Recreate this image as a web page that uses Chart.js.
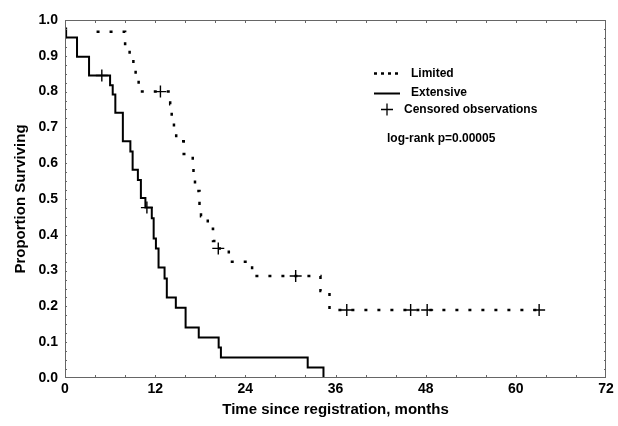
<!DOCTYPE html>
<html>
<head>
<meta charset="utf-8">
<script src="https://cdn.jsdelivr.net/npm/chart.js@4.4.0/dist/chart.umd.min.js"></script>
<style>
  html, body { margin: 0; padding: 0; background: #fff; }
  #wrap { width: 618px; height: 426px; }
</style>
</head>
<body>
<div id="wrap"><canvas id="km" width="618" height="426"></canvas></div>
<script>
// Kaplan-Meier steps (months, proportion surviving)
const limitedTimes = [4.2, 8.0, 8.6, 9.1, 9.4, 9.8, 14.0, 14.2, 14.5, 14.8, 15.8, 17.0, 17.1, 17.3, 17.9, 18.1, 19.0, 19.7, 20.1, 21.8, 24.9, 34.0, 35.2, 63.1];
const limitedSurv  = [0.967, 0.933, 0.9, 0.867, 0.833, 0.8, 0.765, 0.73, 0.696, 0.661, 0.626, 0.591, 0.557, 0.522, 0.487, 0.452, 0.417, 0.383, 0.362, 0.325, 0.285, 0.243, 0.19, 0.19];

const extensiveTimes = [0, 0.15, 1.6, 3.2, 6.0, 6.35, 6.7, 7.7, 8.7, 9.0, 9.7, 10.1, 10.7, 11.55, 11.8, 12.1, 12.45, 13.25, 13.55, 14.75, 16.05, 17.8, 20.45, 20.75, 32.3, 34.4];
const extensiveSurv  = [0.976, 0.951, 0.897, 0.845, 0.818, 0.792, 0.741, 0.661, 0.633, 0.582, 0.553, 0.503, 0.476, 0.446, 0.39, 0.362, 0.309, 0.278, 0.225, 0.196, 0.141, 0.113, 0.085, 0.057, 0.029, 0];

// censored observations
const limitedCensorTimes = [12.7, 20.4, 30.7, 37.5, 46.0, 48.2, 63.1];
const limitedCensorSurv  = [0.8, 0.362, 0.285, 0.19, 0.19, 0.19, 0.19];
const extensiveCensorTimes = [4.9, 10.9];
const extensiveCensorSurv  = [0.845, 0.476];

const xTicks = [0, 12, 24, 36, 48, 60, 72];
const yTicks = [0, 0.1, 0.2, 0.3, 0.4, 0.5, 0.6, 0.7, 0.8, 0.9, 1.0];

const toPts = (xs, ys) => xs.map((x, i) => ({ x: x, y: ys[i] }));
const FONT = 'Arial, "Liberation Sans", sans-serif';

// frame, inner minor ticks, legend and p-value text
const decorations = {
  id: 'decorations',
  afterDraw(chart) {
    const { ctx, chartArea: a, scales } = chart;
    const xs = scales.x, ys = scales.y;
    ctx.save();
    ctx.strokeStyle = '#666';
    ctx.lineWidth = 1;
    ctx.strokeRect(a.left + 0.5, a.top + 0.5, a.right - a.left - 1, a.bottom - a.top - 1);
    ctx.beginPath();
    for (let m = 4; m < 72; m += 4) {
      const px = Math.round(xs.getPixelForValue(m)) + 0.5;
      ctx.moveTo(px, a.bottom); ctx.lineTo(px, a.bottom - 3);
      ctx.moveTo(px, a.top); ctx.lineTo(px, a.top + 3);
    }
    for (let v = 0.025; v < 1; v += 0.025) {
      const py = Math.round(ys.getPixelForValue(v)) + 0.5;
      ctx.moveTo(a.left, py); ctx.lineTo(a.left + 2, py);
      ctx.moveTo(a.right, py); ctx.lineTo(a.right - 2, py);
    }
    ctx.stroke();

    // legend
    ctx.strokeStyle = '#000';
    ctx.lineWidth = 2.5;
    ctx.setLineDash([3, 4]);
    ctx.beginPath(); ctx.moveTo(374, 73.5); ctx.lineTo(398, 73.5); ctx.stroke();
    ctx.setLineDash([]);
    ctx.lineWidth = 2;
    ctx.beginPath(); ctx.moveTo(374, 93.5); ctx.lineTo(400, 93.5); ctx.stroke();
    ctx.lineWidth = 1.3;
    ctx.beginPath();
    ctx.moveTo(381, 109.5); ctx.lineTo(393, 109.5);
    ctx.moveTo(387, 103.5); ctx.lineTo(387, 115.5);
    ctx.stroke();

    ctx.fillStyle = '#000';
    ctx.font = 'bold 12px ' + FONT;
    ctx.textBaseline = 'middle';
    ctx.textAlign = 'left';
    ctx.fillText('Limited', 411, 74);
    ctx.fillText('Extensive', 411, 93);
    ctx.fillText('Censored observations', 404, 110);
    ctx.fillText('log-rank p=0.00005', 387, 139);
    ctx.restore();
  }
};

new Chart(document.getElementById('km'), {
  type: 'scatter',
  data: {
    datasets: [
      {
        label: 'Limited',
        data: toPts(limitedTimes, limitedSurv),
        showLine: true,
        stepped: 'before',
        borderColor: '#000',
        borderWidth: 2.5,
        borderDash: [3, 10],
        pointRadius: 0,
        fill: false
      },
      {
        label: 'Extensive',
        data: toPts(extensiveTimes, extensiveSurv),
        showLine: true,
        stepped: 'before',
        borderColor: '#000',
        borderWidth: 2,
        pointRadius: 0,
        fill: false
      },
      {
        label: 'Censored observations',
        data: toPts(limitedCensorTimes, limitedCensorSurv).concat(toPts(extensiveCensorTimes, extensiveCensorSurv)),
        showLine: false,
        pointStyle: 'cross',
        pointRadius: 6,
        borderColor: '#000',
        borderWidth: 1.4,
        backgroundColor: '#000'
      }
    ]
  },
  options: {
    responsive: false,
    animation: false,
    layout: { padding: { top: 20, right: 12, left: 0, bottom: 0 } },
    plugins: { legend: { display: false }, tooltip: { enabled: false } },
    scales: {
      x: {
        type: 'linear',
        min: 0, max: 72,
        afterFit(scale) { scale.height = 48; },
        afterBuildTicks(scale) { scale.ticks = xTicks.map(v => ({ value: v })); },
        grid: { display: false, drawTicks: false },
        border: { display: false },
        ticks: { color: '#000', font: { family: FONT, size: 14, weight: 'bold' }, padding: 3, maxRotation: 0 },
        title: { display: true, text: 'Time since registration, months', color: '#000', font: { family: FONT, size: 15, weight: 'bold' }, padding: { top: 4, bottom: 7 } }
      },
      y: {
        type: 'linear',
        min: 0, max: 1,
        afterFit(scale) { scale.width = 65; },
        afterBuildTicks(scale) { scale.ticks = yTicks.map(v => ({ value: v })); },
        grid: { display: false, drawTicks: false },
        border: { display: false },
        ticks: { color: '#000', font: { family: FONT, size: 14, weight: 'bold' }, padding: 7, callback: v => v.toFixed(1) },
        title: { display: true, text: 'Proportion Surviving', color: '#000', font: { family: FONT, size: 15, weight: 'bold' }, padding: { top: 12, bottom: 0 } }
      }
    }
  },
  plugins: [decorations]
});
</script>
</body>
</html>
